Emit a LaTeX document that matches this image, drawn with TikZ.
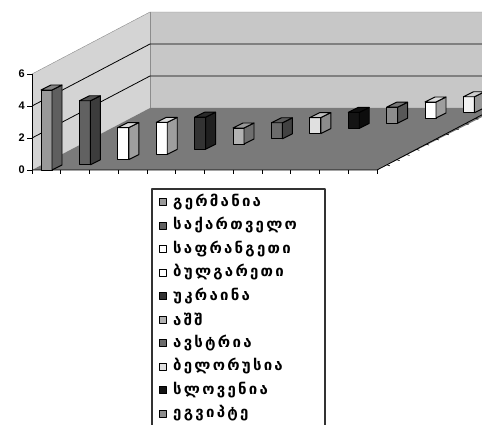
\documentclass[tikz,border=0pt]{standalone}
\usepackage{fontspec}
\setmainfont{Liberation Sans}
\newfontfamily\geofont[LetterSpace=15]{DejaVu Sans}
\begin{document}
\begin{tikzpicture}[x=1pt, y=-1pt, line join=round,
  ylabel/.style={anchor=east, inner sep=0pt, font=\fontsize{11}{11}\selectfont\bfseries},
  legkey/.style={draw, line width=.9pt, minimum size=7pt, inner sep=0pt},
  legtext/.style={anchor=west, inner sep=0pt, font=\fontsize{15}{15}\geofont\bfseries},
  barline/.style={draw=black, line width=.9pt}]
\clip (0,0) rectangle (482,425);
\fill[white] (0,0) rectangle (482,425);

% walls and floor
\fill[black!17] (32,170)--(32,74)--(150,12)--(150,108)--cycle;
\fill[black!22] (150,12) rectangle (500,108);
\fill[black!52] (32,170)--(150,108)--(500,108)--(377,170)--cycle;
\draw[black!45] (32,74)--(150,12)--(500,12);
\draw[black!45] (150,12)--(150,108);
\foreach \v in {2,4}
  \draw[line width=.8pt] (32,{170-16*\v})--(150,{108-16*\v})--(500,{108-16*\v});

% axes
\draw[line width=.8pt] (32,170)--(32,74);
\foreach \v in {0,2,4,6} {
  \draw[line width=.8pt] (27,{170-16*\v})--(32,{170-16*\v});
  \node[ylabel] (y\v) at (25,{170-16*\v}) {\v};
}
\draw[line width=.8pt] (32,170)--(377,170)--(495,108);
\foreach \k in {0,...,12}
  \draw[line width=.8pt] ({32+28.75*\k},170)--({32+28.75*\k},174);
\foreach \k in {1,...,11}
  \draw[line width=.6pt] ({377+9.83*\k},{170-5.17*\k})--++(3,1);

% bars
\foreach \h/\f [count=\i from 0] in {5/black!40, 4/black!62, 2/white, 2/white,
    2/black!80, 1/black!30, 1/black!58, 1/black!12, 1/black!92, 1/black!45,
    1/white, 1/black!5} {
  \colorlet{barf}{\f}
  \pgfmathsetmacro\xa{41+38.4*\i}
  \pgfmathsetmacro\ya{170-5.2*\i}
  \pgfmathsetmacro\yb{\ya-16*\h}
  \filldraw[barline, fill=barf] (\xa,\ya) rectangle ({\xa+11},\yb);
  \filldraw[barline, fill=barf!62!black] ({\xa+11},\ya)--({\xa+21},{\ya-5})
    --({\xa+21},{\yb-5})--({\xa+11},\yb)--cycle;
  \filldraw[barline, fill=barf!85!black] (\xa,\yb)--({\xa+11},\yb)
    --({\xa+21},{\yb-5})--({\xa+10},{\yb-5})--cycle;
}

% legend
\draw[black!80, line width=1.2pt] (152,189) rectangle (325,440);
\foreach \name/\f [count=\i from 0] in {გერმანია/black!40, საქართველო/black!62,
    საფრანგეთი/white, ბულგარეთი/white, უკრაინა/black!80, აშშ/black!30,
    ავსტრია/black!58, ბელორუსია/black!12, სლოვენია/black!92, ეგვიპტე/black!45} {
  \node[legkey, fill=\f] (key\i) at (163,{202+23.5*\i}) {};
  \node[legtext] (leg\i) at (173,{202+23.5*\i}) {\name};
}
\end{tikzpicture}
\end{document}
